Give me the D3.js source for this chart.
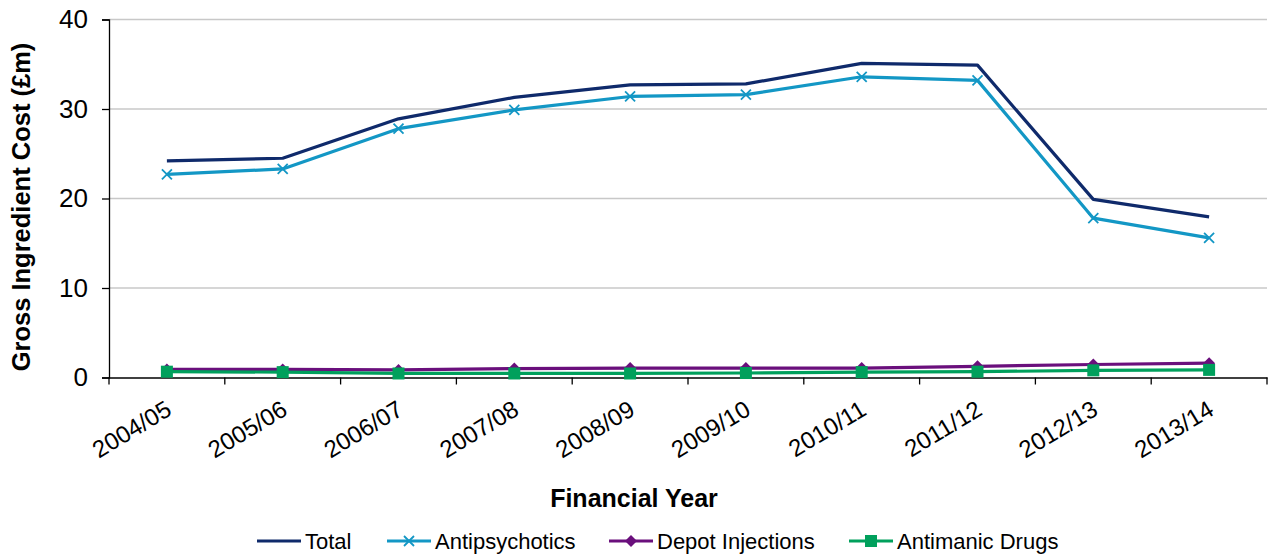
<!DOCTYPE html>
<html>
<head>
<meta charset="utf-8">
<script src="https://cdn.jsdelivr.net/npm/d3@7"></script>
<style>
  html, body { margin: 0; padding: 0; background: #fff; }
  svg { display: block; font-family: "Liberation Sans", Arial, sans-serif; }
</style>
</head>
<body>
<svg id="chart" width="1268" height="556"></svg>
<script>
const years = ["2004/05","2005/06","2006/07","2007/08","2008/09","2009/10","2010/11","2011/12","2012/13","2013/14"];
const total = [24.2, 24.5, 28.9, 31.3, 32.7, 32.8, 35.1, 34.9, 19.9, 17.95];
const antipsychotics = [22.7, 23.3, 27.8, 29.9, 31.4, 31.6, 33.6, 33.2, 17.8, 15.6];
const depotInjections = [0.9, 0.9, 0.85, 1.0, 1.05, 1.05, 1.05, 1.25, 1.45, 1.6];
const antimanicDrugs = [0.65, 0.6, 0.45, 0.45, 0.45, 0.5, 0.6, 0.65, 0.8, 0.85];
const yTicks = [0, 10, 20, 30, 40];

const seriesNames = ["Total", "Antipsychotics", "Depot Injections", "Antimanic Drugs"];
const seriesColors = ["#0f2a6b", "#1397c5", "#6a0f7c", "#00a05c"];
const seriesMarkers = ["none", "x", "diamond", "square"];
const seriesData = [total, antipsychotics, depotInjections, antimanicDrugs];

const svg = d3.select("#chart");
const m = { left: 109, right: 1267, top: 19.5, bottom: 377.5 };

const x = d3.scaleBand().domain(years).range([m.left, m.right]);
const y = d3.scaleLinear().domain([0, 40]).range([m.bottom, m.top]);

// gridlines
svg.append("g").selectAll("line").data(yTicks.filter(t => t > 0)).join("line")
  .attr("x1", m.left).attr("x2", m.right)
  .attr("y1", d => y(d)).attr("y2", d => y(d))
  .attr("stroke", "#c8c8c8").attr("stroke-width", 1.3);

// y axis
const yAxis = svg.append("g").attr("transform", `translate(${m.left},0)`)
  .call(d3.axisLeft(y).tickValues(yTicks).tickSize(7).tickPadding(14));
yAxis.select(".domain").attr("stroke", "#000").attr("stroke-width", 1.3);
yAxis.selectAll(".tick line").attr("stroke", "#000").attr("stroke-width", 1.3);
yAxis.selectAll("text").attr("font-size", 26).attr("fill", "#000")
  .attr("font-family", "Liberation Sans, Arial, sans-serif");

// x axis
const xAxis = svg.append("g").attr("transform", `translate(0,${m.bottom})`)
  .call(d3.axisBottom(x).tickSize(0).tickFormat(""));
xAxis.select(".domain").attr("stroke", "#000").attr("stroke-width", 1.3);
// boundary ticks
const bounds = years.map(d => x(d)).concat([m.right]);
svg.append("g").selectAll("line").data(bounds).join("line")
  .attr("x1", d => d).attr("x2", d => d)
  .attr("y1", m.bottom).attr("y2", m.bottom + 7)
  .attr("stroke", "#000").attr("stroke-width", 1.3);

// x labels
svg.append("g").selectAll("text").data(years).join("text")
  .attr("transform", d => `translate(${x(d) + x.bandwidth() / 2 + 3},${m.bottom + 31}) rotate(-31)`)
  .attr("text-anchor", "end")
  .attr("dominant-baseline", "middle")
  .attr("font-size", 24)
  .attr("fill", "#000")
  .text(d => d);

// axis titles
svg.append("text")
  .attr("transform", `translate(30,207) rotate(-90)`)
  .attr("text-anchor", "middle")
  .attr("font-size", 25.5).attr("font-weight", "bold").attr("fill", "#000")
  .text("Gross Ingredient Cost (£m)");
svg.append("text")
  .attr("x", 634).attr("y", 507)
  .attr("text-anchor", "middle")
  .attr("font-size", 25).attr("font-weight", "bold").attr("fill", "#000")
  .text("Financial Year");

const cx = d => x(d) + x.bandwidth() / 2;
const line = d3.line().x((d, i) => cx(years[i])).y(d => y(d));

function drawMarker(g, type, px, py, color) {
  if (type === "x") {
    const s = 5;
    g.append("path").attr("d", `M${px - s},${py - s}L${px + s},${py + s}M${px - s},${py + s}L${px + s},${py - s}`)
      .attr("stroke", color).attr("stroke-width", 1.8).attr("fill", "none");
  } else if (type === "diamond") {
    const s = 6;
    g.append("path").attr("d", `M${px},${py - s}L${px + s},${py}L${px},${py + s}L${px - s},${py}Z`)
      .attr("fill", color);
  } else if (type === "square") {
    const s = 6;
    g.append("rect").attr("x", px - s).attr("y", py - s).attr("width", 2 * s).attr("height", 2 * s)
      .attr("fill", color);
  }
}

// draw series in order
[2, 3, 1, 0].forEach(k => {
  const g = svg.append("g");
  g.append("path").datum(seriesData[k]).attr("d", line)
    .attr("fill", "none").attr("stroke", seriesColors[k]).attr("stroke-width", 3.2)
    .attr("stroke-linejoin", "round");
  seriesData[k].forEach((v, i) => drawMarker(g, seriesMarkers[k], cx(years[i]), y(v), seriesColors[k]));
});

// legend
const legendX = [257, 387, 609, 849];
const lg = svg.append("g");
seriesNames.forEach((name, k) => {
  const lx = legendX[k], ly = 541;
  lg.append("line").attr("x1", lx).attr("x2", lx + 44).attr("y1", ly).attr("y2", ly)
    .attr("stroke", seriesColors[k]).attr("stroke-width", 3.2);
  drawMarker(lg, seriesMarkers[k], lx + 22, ly, seriesColors[k]);
  lg.append("text").attr("x", lx + 48).attr("y", ly).attr("dominant-baseline", "central")
    .attr("font-size", 22).attr("fill", "#000").text(name);
});
</script>
</body>
</html>
